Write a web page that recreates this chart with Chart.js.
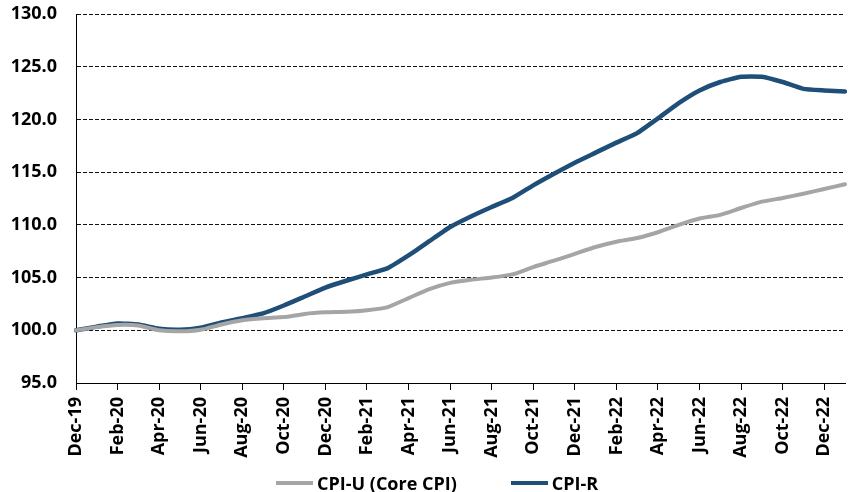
<!DOCTYPE html>
<html>
<head>
<meta charset="utf-8">
<script src="https://cdn.jsdelivr.net/npm/chart.js@4.4.1/dist/chart.umd.min.js"></script>
<style>
  html, body { margin: 0; padding: 0; background: #fff; }
  #wrap { position: relative; width: 855px; height: 492px; }
  #c { position: absolute; left: 0; top: 0; }
  #legend { position: absolute; left: 276px; top: 471px; display: flex; align-items: center;
            font-family: "Open Sans", "Liberation Sans", sans-serif; font-weight: bold; font-size: 18px; color: #000; }
  .item { display: flex; align-items: center; }
  .sw { width: 37px; height: 4px; margin-right: 4px; }
  .item + .item { margin-left: 54px; }
</style>
</head>
<body>
<div id="wrap">
  <canvas id="c" width="855" height="492"></canvas>
  <div id="legend"></div>
</div>
<script>
const months = ["Dec-19","Jan-20","Feb-20","Mar-20","Apr-20","May-20","Jun-20","Jul-20","Aug-20","Sep-20","Oct-20","Nov-20",
  "Dec-20","Jan-21","Feb-21","Mar-21","Apr-21","May-21","Jun-21","Jul-21","Aug-21","Sep-21","Oct-21","Nov-21",
  "Dec-21","Jan-22","Feb-22","Mar-22","Apr-22","May-22","Jun-22","Jul-22","Aug-22","Sep-22","Oct-22","Nov-22",
  "Dec-22","Jan-23"];

const cpiU = [100.0,100.3,100.5,100.45,100.0,99.9,100.05,100.55,100.95,101.15,101.25,101.55,
  101.7,101.75,101.9,102.2,103.05,103.9,104.5,104.8,105.0,105.3,106.0,106.6,
  107.25,107.9,108.4,108.75,109.3,110.0,110.6,110.95,111.6,112.2,112.55,112.95,
  113.4,113.85];

const cpiR = [100.0,100.35,100.65,100.55,100.15,100.05,100.25,100.75,101.15,101.6,102.35,103.2,
  104.05,104.7,105.3,105.9,107.1,108.45,109.8,110.8,111.7,112.55,113.75,114.85,
  115.9,116.85,117.8,118.7,120.1,121.55,122.75,123.55,124.05,124.05,123.55,122.9,
  122.75,122.65];

const seriesNames = ["CPI-U (Core CPI)", "CPI-R"];
const seriesColors = ["#A5A5A5", "#1F4E79"];

const yMin = 95, yMax = 130, yStep = 5;

const FONT = { family: "'Open Sans', 'Liberation Sans', sans-serif", size: 18, weight: 'bold' };

function zeroPad(s) { s.paddingLeft = 0; s.paddingRight = 0; s.paddingTop = 0; s.paddingBottom = 0; }

const chart = new Chart(document.getElementById('c'), {
  type: 'line',
  data: {
    labels: months,
    datasets: [
      { label: seriesNames[0], data: cpiU, borderColor: seriesColors[0], backgroundColor: seriesColors[0],
        borderWidth: 4, pointRadius: 0, tension: 0.15, borderCapStyle: 'round', borderJoinStyle: 'round' },
      { label: seriesNames[1], data: cpiR, borderColor: seriesColors[1], backgroundColor: seriesColors[1],
        borderWidth: 4.5, pointRadius: 0, tension: 0.15, borderCapStyle: 'round', borderJoinStyle: 'round' }
    ]
  },
  options: {
    responsive: false,
    animation: false,
    layout: { padding: { left: 0, right: 10, top: 14, bottom: 34 } },
    plugins: { legend: { display: false }, tooltip: { enabled: false } },
    scales: {
      x: {
        offset: false,
        grid: { drawOnChartArea: false, drawTicks: true, tickLength: 7,
                tickColor: (ctx) => (ctx.index % 2 === 0 ? '#000' : 'rgba(0,0,0,0)'), lineWidth: 1 },
        border: { display: true, color: '#000', width: 1 },
        ticks: {
          autoSkip: false, maxRotation: 90, minRotation: 90, padding: 7, color: '#000', font: FONT,
          callback: function(v, i) { return i % 2 === 0 ? this.getLabelForValue(v) : ''; }
        },
        afterFit: (s) => { s.height = 75; zeroPad(s); }
      },
      y: {
        min: yMin, max: yMax,
        grid: { drawTicks: false, color: '#111', lineWidth: 1 },
        border: { display: true, color: '#000', width: 1, dash: [4, 2] },
        ticks: { stepSize: yStep, padding: 19, color: '#000', font: FONT,
                 callback: (v) => Number(v).toFixed(1) },
        afterFit: (s) => { s.width = 76; zeroPad(s); }
      }
    }
  }
});

const leg = document.getElementById('legend');
chart.data.datasets.forEach(ds => {
  const it = document.createElement('div'); it.className = 'item';
  const sw = document.createElement('div'); sw.className = 'sw'; sw.style.background = ds.borderColor;
  const tx = document.createElement('span'); tx.textContent = ds.label;
  it.appendChild(sw); it.appendChild(tx); leg.appendChild(it);
});
</script>
</body>
</html>
